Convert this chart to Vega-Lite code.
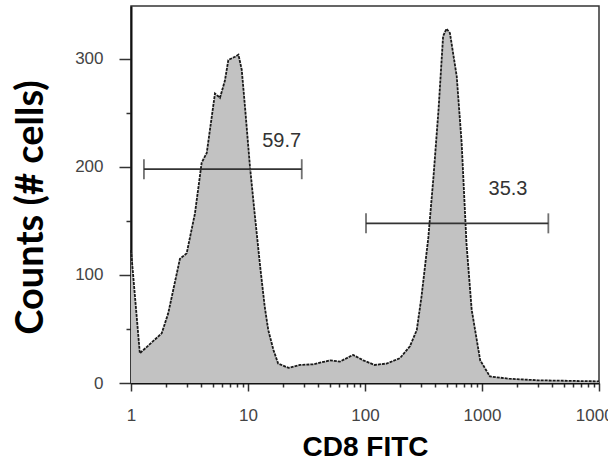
{
  "$schema": "https://vega.github.io/schema/vega-lite/v6.json",
  "width": 468,
  "height": 377,
  "autosize": {"type": "none"},
  "padding": {"left": 131, "top": 6, "right": 9, "bottom": 79},
  "background": "white",
  "config": {
    "view": {"stroke": "#333", "strokeWidth": 1.5},
    "axis": {
      "grid": false,
      "domainColor": "#111",
      "domainWidth": 2,
      "tickColor": "#333",
      "tickWidth": 1.5,
      "labelFont": "Liberation Sans",
      "labelFontSize": 17,
      "labelColor": "#444",
      "labelOverlap": false,
      "labelFlush": false,
      "labelBound": false
    }
  },
  "datasets": {
    "hist": [
      {"fl": 1, "count": 123},
      {"fl": 1.19, "count": 27.5},
      {"fl": 1.83, "count": 46},
      {"fl": 2.08, "count": 64.5},
      {"fl": 2.62, "count": 115},
      {"fl": 2.99, "count": 120},
      {"fl": 3.52, "count": 157},
      {"fl": 4.02, "count": 204},
      {"fl": 4.44, "count": 213},
      {"fl": 5.22, "count": 268},
      {"fl": 5.76, "count": 264},
      {"fl": 6.35, "count": 280},
      {"fl": 6.79, "count": 299},
      {"fl": 7.74, "count": 302},
      {"fl": 8.28, "count": 304},
      {"fl": 8.84, "count": 290},
      {"fl": 9.42, "count": 256},
      {"fl": 10.4, "count": 200},
      {"fl": 11.4, "count": 157},
      {"fl": 12.7, "count": 108},
      {"fl": 13.9, "count": 70.6},
      {"fl": 14.9, "count": 49},
      {"fl": 16.5, "count": 30.6},
      {"fl": 18.1, "count": 18},
      {"fl": 22.2, "count": 14},
      {"fl": 27.8, "count": 16.7},
      {"fl": 36.2, "count": 17.3},
      {"fl": 50.2, "count": 21},
      {"fl": 61, "count": 19.8},
      {"fl": 79.1, "count": 26},
      {"fl": 96.6, "count": 21},
      {"fl": 121, "count": 16.7},
      {"fl": 153, "count": 18},
      {"fl": 199, "count": 23},
      {"fl": 242, "count": 34},
      {"fl": 277, "count": 49},
      {"fl": 304, "count": 80},
      {"fl": 348, "count": 135},
      {"fl": 385, "count": 191},
      {"fl": 425, "count": 253},
      {"fl": 465, "count": 321},
      {"fl": 497, "count": 328},
      {"fl": 532, "count": 324},
      {"fl": 608, "count": 284},
      {"fl": 670, "count": 222},
      {"fl": 737, "count": 129},
      {"fl": 816, "count": 68},
      {"fl": 965, "count": 21},
      {"fl": 1170, "count": 6},
      {"fl": 1700, "count": 4},
      {"fl": 3000, "count": 2.5},
      {"fl": 10000, "count": 1.5}
    ],
    "gates": [
      {"gate": "left", "x1": 1.29, "x2": 28.8, "level": 197.9, "lx": 19.4, "ly": 218.8, "label": "59.7"},
      {"gate": "right", "x1": 102, "x2": 3690, "level": 147.8, "lx": 1668, "ly": 174, "label": "35.3"}
    ]
  },
  "layer": [
    {
      "data": {"name": "hist"},
      "mark": {"type": "area", "color": "#c2c2c2", "interpolate": "linear"},
      "encoding": {
        "x": {
          "field": "fl", "type": "quantitative",
          "scale": {"type": "log", "domain": [1, 10000], "nice": false},
          "axis": {
            "values": [1,2,3,4,5,6,7,8,9,10,20,30,40,50,60,70,80,90,100,200,300,400,500,600,700,800,900,1000,2000,3000,4000,5000,6000,7000,8000,9000,10000],
            "format": "d",
            "labelExpr": "indexof([1,10,100,1000,10000], datum.value) >= 0 ? datum.label : ''",
            "tickSize": {"condition": {"test": "indexof([1,10,100,1000,10000], datum.value) >= 0", "value": 8}, "value": 4},
            "labelPadding": 16,
            "title": "CD8 FITC",
            "titleFont": "Liberation Sans",
            "titleFontWeight": "bold",
            "titleFontSize": 28,
            "titleColor": "#000",
            "titleY": 72,
            "titleBaseline": "alphabetic"
          }
        },
        "y": {
          "field": "count", "type": "quantitative",
          "scale": {"domain": [0, 349], "nice": false, "zero": true},
          "axis": {
            "values": [0,25,50,75,100,125,150,175,200,225,250,275,300,325],
            "labelExpr": "datum.value % 100 === 0 ? datum.label : ''",
            "tickSize": {"condition": {"test": "datum.value % 100 === 0", "value": 12}, "value": 5},
            "labelPadding": 16,
            "title": "Counts (# cells)",
            "titleFont": "Lato",
            "titleFontWeight": "bold",
            "titleFontSize": 38,
            "titleColor": "#000",
            "titleAngle": -90,
            "titleX": -100,
            "titleY": 201,
            "titleAlign": "center",
            "titleBaseline": "middle"
          }
        }
      }
    },
    {
      "data": {"name": "hist"},
      "mark": {"type": "line", "color": "#1a1a1a", "strokeWidth": 1.8, "strokeDash": [3, 1]},
      "encoding": {
        "x": {"field": "fl", "type": "quantitative"},
        "y": {"field": "count", "type": "quantitative"}
      }
    },
    {
      "data": {"name": "gates"},
      "mark": {"type": "rule", "color": "#333", "strokeWidth": 1.8},
      "encoding": {
        "x": {"field": "x1", "type": "quantitative"},
        "x2": {"field": "x2"},
        "y": {"field": "level", "type": "quantitative"}
      }
    },
    {
      "data": {"name": "gates"},
      "transform": [{"fold": ["x1", "x2"], "as": ["end", "xe"]}],
      "mark": {"type": "tick", "orient": "vertical", "color": "#333", "thickness": 1.8, "size": 20},
      "encoding": {
        "x": {"field": "xe", "type": "quantitative"},
        "y": {"field": "level", "type": "quantitative"}
      }
    },
    {
      "data": {"name": "gates"},
      "mark": {"type": "text", "font": "Liberation Sans", "fontSize": 20, "color": "#333", "align": "center", "baseline": "alphabetic"},
      "encoding": {
        "x": {"field": "lx", "type": "quantitative"},
        "y": {"field": "ly", "type": "quantitative"},
        "text": {"field": "label"}
      }
    }
  ]
}
